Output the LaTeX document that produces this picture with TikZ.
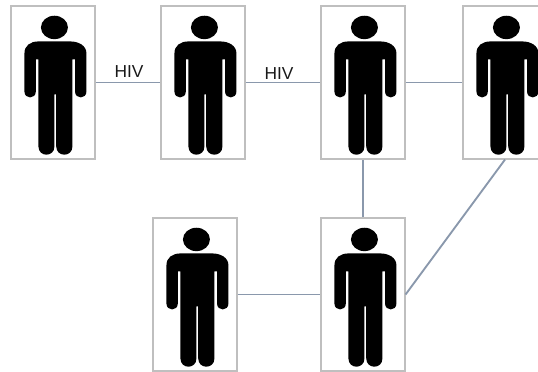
\documentclass[tikz,border=0pt]{standalone}
\usepackage{fontspec}
\setmainfont{Liberation Sans}
\definecolor{linkblue}{HTML}{8A98AC}
\tikzset{
  personbox/.style={draw=black!25,line width=0.85pt,rectangle,minimum width=63pt,minimum height=114.75pt,inner sep=0pt},
  linkline/.style={draw=linkblue,line width=1.4pt},
  hivlabel/.style={font=\fontsize{13}{15}\selectfont,text=black!90,inner sep=0pt},
  person/.pic={
    \fill[black] (44,22) ellipse [x radius=13.5pt*0.75,y radius=11.7pt*0.75];
    \fill[black] (14,48) .. controls (14,40) and (20,36) .. (28,36) -- (60,36)
      .. controls (68,36) and (76,40) .. (76,48) -- (76,86)
      .. controls (76,94) and (64.6,94) .. (64.6,86) -- (64.6,54) -- (62,54) -- (62,141)
      .. controls (62,152) and (45.8,152) .. (45.8,141) -- (45.8,89) -- (44,89) -- (44,141)
      .. controls (44,152) and (28,152) .. (28,141) -- (28,54) -- (25.4,54) -- (25.4,86)
      .. controls (25.4,94) and (14,94) .. (14,86) -- cycle;
  }
}
\begin{document}
\begin{tikzpicture}[x=0.75pt,y=-0.75pt]
\clip (0,0) rectangle (538,371);
\node[personbox] (p1) at (53,82.5) {};
\node[personbox] (p2) at (203,82.5) {};
\node[personbox] (p3) at (363,82.5) {};
\node[personbox] (p4) at (505,82.5) {};
\node[personbox] (p5) at (195,294.5) {};
\node[personbox] (p6) at (363,294.5) {};
\pic at (p1.north west) {person};
\pic at (p2.north west) {person};
\pic at (p3.north west) {person};
\pic at (p4.north west) {person};
\pic at (p5.north west) {person};
\pic at (p6.north west) {person};
\draw[linkline] (p1.east) -- (p2.west);
\draw[linkline] (p2.east) -- (p3.west);
\draw[linkline] (p3.east) -- (p4.west);
\draw[linkline] (p3.south) -- (p6.north);
\draw[linkline] (p5.east) -- (p6.west);
\draw[linkline] (p4.south) -- (p6.east);
\node[hivlabel] (h1) at (129,71.5) {HIV};
\node[hivlabel] (h2) at (279,74) {HIV};
\end{tikzpicture}
\end{document}
